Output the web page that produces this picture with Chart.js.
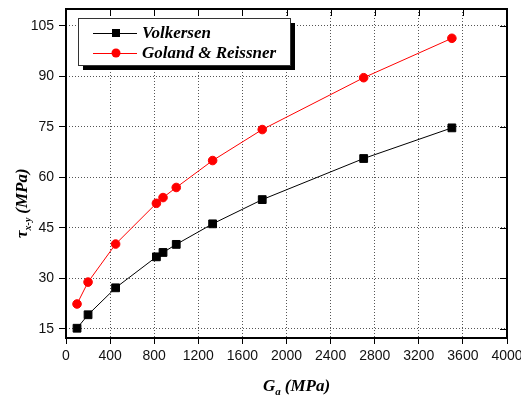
<!DOCTYPE html>
<html>
<head>
<meta charset="utf-8">
<script src="https://cdn.jsdelivr.net/npm/chart.js@4.4.0/dist/chart.umd.min.js"></script>
<style>
  html, body { margin: 0; padding: 0; background: #fff; }
  #wrap { width: 521px; height: 399px; }
</style>
</head>
<body>
<div id="wrap"><canvas id="shear"></canvas></div>
<script>
// shear modulus of adhesive (MPa)
const modulus = [100, 200, 450, 820, 880, 1000, 1330, 1780, 2700, 3500];
const volkersen = [15.2, 19.2, 27.2, 36.4, 37.7, 40.1, 46.2, 53.4, 65.6, 74.7];
const goland = [22.4, 28.9, 40.2, 52.3, 54.0, 57.0, 65.0, 74.2, 89.6, 101.3];
const xTicks = [0, 400, 800, 1200, 1600, 2000, 2400, 2800, 3200, 3600, 4000];
const yTicks = [15, 30, 45, 60, 75, 90, 105];

const serif = "'Liberation Serif', 'Times New Roman', serif";
const sans = "'Liberation Sans', Arial, sans-serif";

function pts(ys) {
    return modulus.map((x, i) => ({x: x, y: ys[i]}));
}

// frame, mirrored ticks, axis titles and the boxed legend
const decor = {
    id: 'decor',
    afterDraw(chart) {
        const ctx = chart.ctx;
        const a = chart.chartArea;
        const xs = chart.scales.x, ys = chart.scales.y;
        ctx.save();
        ctx.strokeStyle = '#000';
        ctx.lineWidth = 1;
        ctx.beginPath();
        xTicks.forEach(v => {
            const px = Math.round(xs.getPixelForValue(v)) + 0.5;
            ctx.moveTo(px, a.top);
            ctx.lineTo(px, a.top + 7);
        });
        yTicks.forEach(v => {
            const py = Math.round(ys.getPixelForValue(v)) + 0.5;
            ctx.moveTo(a.right, py);
            ctx.lineTo(a.right - 7, py);
        });
        ctx.stroke();
        ctx.lineWidth = 2;
        ctx.strokeRect(a.left, a.top, a.right - a.left, a.bottom - a.top);

        // x title: G_a (MPa)
        ctx.fillStyle = '#000';
        ctx.textBaseline = 'alphabetic';
        ctx.textAlign = 'left';
        let x = 263, y = 391;
        ctx.font = 'italic bold 17px ' + serif;
        ctx.fillText('G', x, y);
        x += ctx.measureText('G').width;
        ctx.font = 'italic bold 11px ' + serif;
        ctx.fillText('a', x, y + 4);
        x += ctx.measureText('a').width + 4;
        ctx.font = 'italic bold 17px ' + serif;
        ctx.fillText('(MPa)', x, y);

        // y title: tau_x-y (MPa), rotated
        ctx.save();
        ctx.translate(27, 238);
        ctx.rotate(-Math.PI / 2);
        x = 0;
        ctx.font = 'italic bold 17px ' + serif;
        ctx.fillText('\u03C4', x, 0);
        x += ctx.measureText('\u03C4').width;
        ctx.font = 'italic bold 10px ' + serif;
        ctx.fillText('x-y', x, 4);
        x += ctx.measureText('x-y').width + 4;
        ctx.font = 'italic bold 17px ' + serif;
        ctx.fillText('(MPa)', x, 0);
        ctx.restore();

        // legend box with shadow
        const bx = 78, by = 18, bw = 212, bh = 47;
        ctx.fillStyle = '#000';
        ctx.fillRect(bx + 5, by + 5, bw, bh);
        ctx.fillStyle = '#fff';
        ctx.fillRect(bx, by, bw, bh);
        ctx.lineWidth = 1;
        ctx.strokeStyle = '#333';
        ctx.strokeRect(bx + 0.5, by + 0.5, bw, bh);
        chart.data.datasets.forEach((ds, i) => {
            const ly = 33 + i * 20;
            ctx.strokeStyle = ds.borderColor;
            ctx.lineWidth = 1;
            ctx.beginPath();
            ctx.moveTo(93, ly + 0.5);
            ctx.lineTo(137, ly + 0.5);
            ctx.stroke();
            ctx.fillStyle = ds.backgroundColor;
            if (ds.pointStyle === 'rect') {
                ctx.fillRect(112, ly - 4, 8, 8);
            } else {
                ctx.beginPath();
                ctx.arc(116, ly, 4.5, 0, Math.PI * 2);
                ctx.fill();
            }
            ctx.fillStyle = '#000';
            ctx.font = 'italic bold 17px ' + serif;
            ctx.textBaseline = 'middle';
            ctx.fillText(ds.label, 142, ly + 1);
        });
        ctx.restore();
    }
};

new Chart(document.getElementById('shear'), {
    type: 'scatter',
    data: {
        datasets: [{
            label: 'Volkersen',
            data: pts(volkersen),
            showLine: true,
            borderColor: '#000',
            backgroundColor: '#000',
            borderWidth: 1,
            pointStyle: 'rect',
            pointRadius: 5.5,
            pointHoverRadius: 5.5
        }, {
            label: 'Goland & Reissner',
            data: pts(goland),
            showLine: true,
            borderColor: '#ff0000',
            backgroundColor: '#ff0000',
            borderWidth: 1,
            pointStyle: 'circle',
            pointRadius: 4.3,
            pointHoverRadius: 4.3
        }]
    },
    options: {
        responsive: true,
        maintainAspectRatio: false,
        animation: false,
        layout: {
            padding: {top: 9, right: 14, left: 0, bottom: 0}
        },
        plugins: {
            legend: {display: false},
            tooltip: {enabled: false}
        },
        scales: {
            x: {
                type: 'linear',
                min: 0,
                max: 4000,
                afterBuildTicks: s => { s.ticks = xTicks.map(v => ({value: v})); },
                afterFit: s => { s.height = 61; s.paddingLeft = 0; s.paddingRight = 0; },
                grid: {
                    color: '#555',
                    tickBorderDash: [],
                    tickColor: '#000',
                    tickLength: 6
                },
                border: {display: false, dash: [1, 2]},
                ticks: {
                    color: '#111',
                    padding: 4,
                    maxRotation: 0,
                    font: {family: sans, size: 14},
                    callback: v => String(v)
                }
            },
            y: {
                type: 'linear',
                min: 12.3,
                max: 110,
                afterBuildTicks: s => { s.ticks = yTicks.map(v => ({value: v})); },
                afterFit: s => { s.width = 66; s.paddingTop = 0; s.paddingBottom = 0; },
                grid: {
                    color: '#555',
                    tickBorderDash: [],
                    tickColor: '#000',
                    tickLength: 7
                },
                border: {display: false, dash: [1, 2]},
                ticks: {
                    color: '#111',
                    padding: 5,
                    font: {family: sans, size: 14},
                    callback: v => String(v)
                }
            }
        }
    },
    plugins: [decor]
});
</script>
</body>
</html>
